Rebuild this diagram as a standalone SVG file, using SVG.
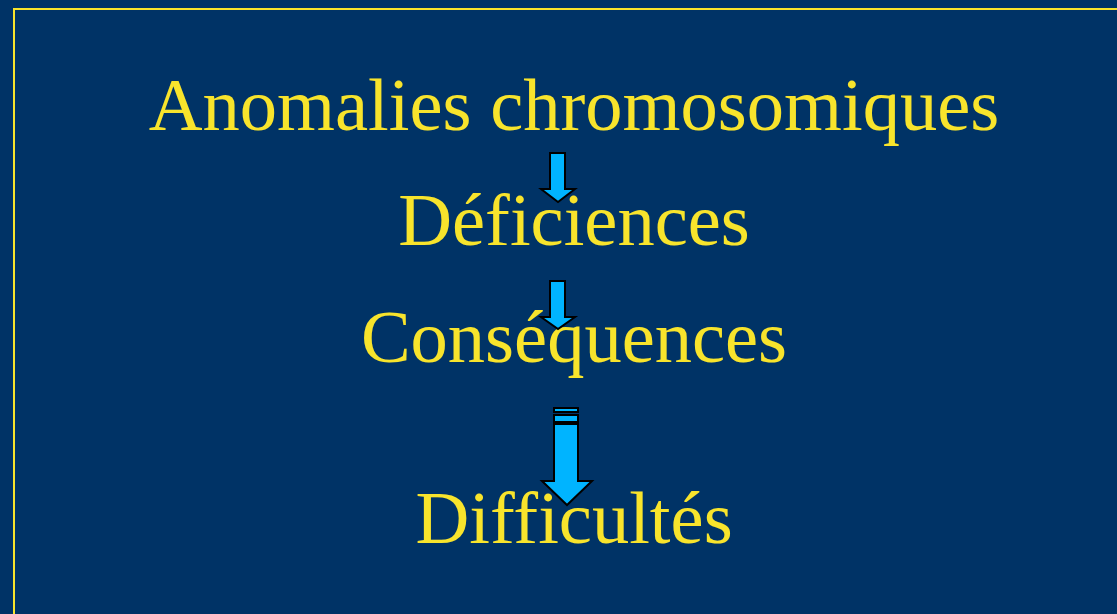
<svg xmlns="http://www.w3.org/2000/svg" width="1117" height="614" viewBox="0 0 1117 614">
<style>
.t{font-family:"Liberation Serif","Times New Roman",serif;font-size:74.5px;fill:#F8E42C;text-anchor:middle}
.a{fill:#00B4FF;stroke:#000;stroke-width:2;stroke-linejoin:miter}
</style>
<rect x="0" y="0" width="1117" height="614" fill="#003366"/>
<rect x="14" y="9" width="1120" height="620" fill="none" stroke="#F8E42C" stroke-width="2"/>
<g id="n1"><text class="t" x="574" y="130">Anomalies chromosomiques</text></g>
<g id="n2"><text class="t" x="574" y="245">Déficiences</text></g>
<g id="n3"><text class="t" x="574" y="362">Conséquences</text></g>
<g id="n4"><text class="t" x="574" y="543">Difficultés</text></g>
<g id="connectors">
<path class="a" d="M550,153 H565 V189 H575 L558,202 L541,189 H550 Z"/>
<path class="a" d="M550,281 H565 V317 H575 L558,329 L541,317 H550 Z"/>
<rect class="a" x="554" y="408" width="24" height="4"/>
<rect class="a" x="554" y="415" width="24" height="7"/>
<path class="a" d="M554,424 H578 V481 H592 L567,505 L542,481 H554 Z"/>
</g>
</svg>
